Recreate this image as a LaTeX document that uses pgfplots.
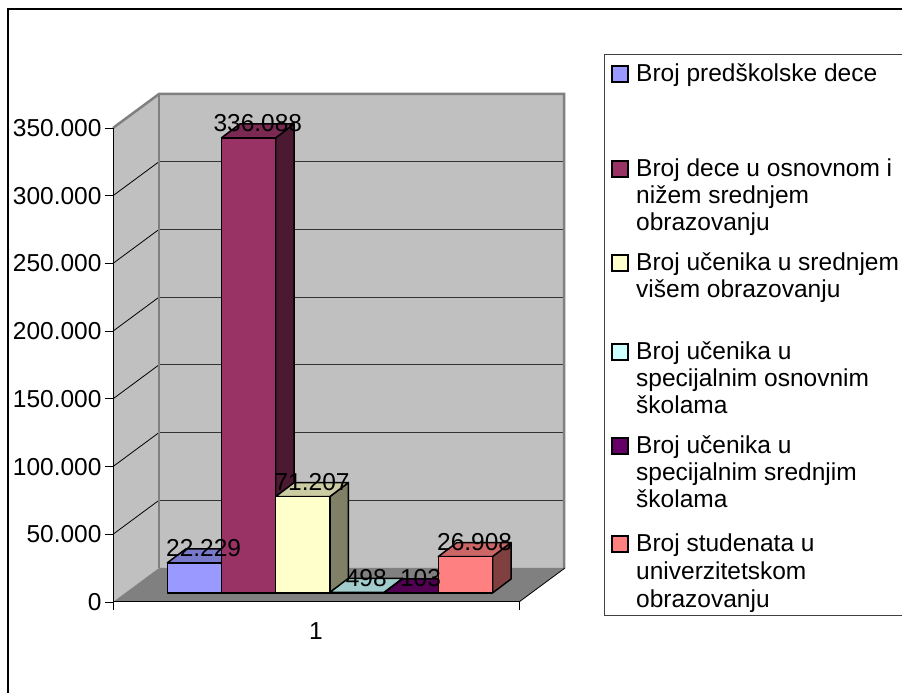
\documentclass[border=0pt]{standalone}
\usepackage{fontspec}
\setmainfont{Liberation Sans}
\usepackage{pgfplots}
\pgfplotsset{compat=1.18}
\definecolor{cBlue}{HTML}{9999FF}
\definecolor{cMaroon}{HTML}{993366}
\definecolor{cYellow}{HTML}{FFFFCC}
\definecolor{cCyan}{HTML}{CCFFFF}
\definecolor{cPurple}{HTML}{660066}
\definecolor{cPink}{HTML}{FF8080}
\definecolor{wallc}{HTML}{C0C0C0}
\definecolor{floorc}{HTML}{808080}
\newcommand{\lbl}{\fontsize{24.5bp}{28bp}\selectfont}
% 3D bar: #1 = left x of front face, #2 = value, #3 = colour
\newcommand{\threedbar}[3]{%
  \edef\xa{\fpeval{#1}}%
  \edef\xb{\fpeval{#1+54.2}}%
  \edef\xc{\fpeval{#1+18.5}}%
  \edef\xd{\fpeval{#1+54.2+18.5}}%
  \edef\ya{6645}%
  \edef\yb{\fpeval{6645+#2}}%
  \edef\yc{\fpeval{6645+10337}}%
  \edef\yd{\fpeval{6645+10337+#2}}%
  \edef\doit{%
    \noexpand\addplot[draw=black, line width=1.5bp, line join=round, fill=#3!50!black] coordinates {(\xb,\ya) (\xd,\yc) (\xd,\yd) (\xb,\yb)} -- cycle;
    \noexpand\addplot[draw=black, line width=1.5bp, line join=round, fill=#3!80!black] coordinates {(\xa,\yb) (\xb,\yb) (\xd,\yd) (\xc,\yd)} -- cycle;
    \noexpand\addplot[draw=black, line width=1.5bp, line join=round, fill=#3] coordinates {(\xa,\ya) (\xb,\ya) (\xb,\yb) (\xa,\yb)} -- cycle;
  }\doit
}
\newcommand{\barlabel}[3]{%
  \edef\xl{\fpeval{#1+27.1+9.25}}%
  \edef\yl{\fpeval{#2+17352}}%
  \edef\doit{\noexpand\node[font=\noexpand\lbl, inner sep=0pt] at (axis cs:\xl,\yl) {#3};}\doit
}
\begin{document}
\begin{tikzpicture}
\useasboundingbox (0,0) rectangle (902bp,693bp);
\fill[white] (0,0) rectangle (902bp,693bp);
% outer frame (only top and left visible)
\draw[line width=1.5bp] (8bp,0bp) -- (8bp,684bp) -- (902bp,684bp);
% legend frame
\draw[black!75, line width=1bp] (902bp,638bp) -- (604bp,638bp) -- (604bp,77bp) -- (902bp,77bp);
% legend
\begin{scope}[every node/.style={anchor=base west, inner sep=0pt, font=\lbl}]
\filldraw[fill=cBlue, draw=black, line width=1.2bp] (612bp,611bp) rectangle (628bp,627bp);
\node at (636bp,611bp) {Broj predškolske dece};
\filldraw[fill=cMaroon, draw=black, line width=1.2bp] (612bp,516bp) rectangle (628bp,532bp);
\node at (636bp,516bp) {Broj dece u osnovnom i};
\node at (636bp,489bp) {nižem srednjem};
\node at (636bp,462bp) {obrazovanju};
\filldraw[fill=cYellow, draw=black, line width=1.2bp] (612bp,422bp) rectangle (628bp,438bp);
\node at (636bp,422bp) {Broj učenika u srednjem};
\node at (636bp,395bp) {višem obrazovanju};
\filldraw[fill=cCyan, draw=black, line width=1.2bp] (612bp,333bp) rectangle (628bp,349bp);
\node at (636bp,333bp) {Broj učenika u};
\node at (636bp,306bp) {specijalnim osnovnim};
\node at (636bp,279bp) {školama};
\filldraw[fill=cPurple, draw=black, line width=1.2bp] (612bp,239bp) rectangle (628bp,255bp);
\node at (636bp,239bp) {Broj učenika u};
\node at (636bp,212bp) {specijalnim srednjim};
\node at (636bp,185bp) {školama};
\filldraw[fill=cPink, draw=black, line width=1.2bp] (612bp,141bp) rectangle (628bp,157bp);
\node at (636bp,141bp) {Broj studenata u};
\node at (636bp,113bp) {univerzitetskom};
\node at (636bp,85bp) {obrazovanju};
\end{scope}
\begin{axis}[
  at={(113bp,91bp)}, anchor=south west,
  scale only axis, width=452bp, height=509bp,
  xmin=113, xmax=565, ymin=0, ymax=375844,
  clip=false,
  axis x line*=bottom, axis y line*=left,
  axis line style={draw=none},
  tick align=outside,
  major tick length=8bp,
  tick style={draw=black, line width=0.8bp},
  ytick={0,50000,100000,150000,200000,250000,300000,350000},
  yticklabels={0,50.000,100.000,150.000,200.000,250.000,300.000,350.000},
  xtick={113,519},
  xticklabels={,},
  extra x ticks={316},
  extra x tick labels={1},
  extra x tick style={major tick length=0pt, xticklabel style={yshift=-17bp}},
  tick label style={font=\lbl},
  scaled y ticks=false,
]
% left wall
\addplot[fill=wallc, draw=none] coordinates {(113,0) (159,25105) (159,375105) (113,350000)} -- cycle;
% back wall
\addplot[fill=wallc, draw=none] coordinates {(159,25105) (564,25105) (564,375105) (159,375105)} -- cycle;
% back wall gridlines
\addplot[black!80, line width=1bp] coordinates {(159,75105) (564,75105)};
\addplot[black!80, line width=1bp] coordinates {(159,125105) (564,125105)};
\addplot[black!80, line width=1bp] coordinates {(159,175105) (564,175105)};
\addplot[black!80, line width=1bp] coordinates {(159,225105) (564,225105)};
\addplot[black!80, line width=1bp] coordinates {(159,275105) (564,275105)};
\addplot[black!80, line width=1bp] coordinates {(159,325105) (564,325105)};
% left wall gridlines
\addplot[black, line width=0.8bp] coordinates {(113,50000) (159,75105)};
\addplot[black, line width=0.8bp] coordinates {(113,100000) (159,125105)};
\addplot[black, line width=0.8bp] coordinates {(113,150000) (159,175105)};
\addplot[black, line width=0.8bp] coordinates {(113,200000) (159,225105)};
\addplot[black, line width=0.8bp] coordinates {(113,250000) (159,275105)};
\addplot[black, line width=0.8bp] coordinates {(113,300000) (159,325105)};
% wall borders
\addplot[floorc, line width=2.5bp] coordinates {(113,350000) (159,375105) (564,375105) (564,25105)};
\addplot[floorc, line width=2.5bp] coordinates {(159,25105) (159,375105)};
% floor
\addplot[fill=floorc, draw=none] coordinates {(113,0) (519,0) (565,25105) (159,25105)} -- cycle;
\addplot[black, line width=0.8bp] coordinates {(519,0) (565,25105)};
\addplot[black, line width=1bp] coordinates {(113,0) (519,0)};
\addplot[black, line width=1bp] coordinates {(113,0) (113,350000)};
% bars
\threedbar{167.3}{22229}{cBlue}
\threedbar{221.5}{336088}{cMaroon}
\threedbar{275.7}{71207}{cYellow}
\threedbar{329.9}{498}{cCyan}
\threedbar{384.1}{103}{cPurple}
\threedbar{438.3}{26908}{cPink}
% value labels
\barlabel{167.3}{22229}{22.229}
\barlabel{221.5}{336088}{336.088}
\barlabel{275.7}{71207}{71.207}
\barlabel{329.9}{498}{498}
\barlabel{384.1}{103}{103}
\barlabel{438.3}{26908}{26.908}
\end{axis}
\end{tikzpicture}
\end{document}
